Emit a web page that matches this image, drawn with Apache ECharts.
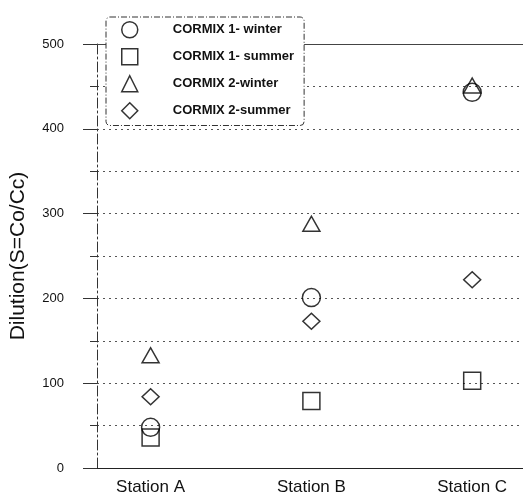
<!DOCTYPE html>
<html>
<head>
<meta charset="utf-8">
<script src="https://cdn.jsdelivr.net/npm/echarts@6/dist/echarts.min.js"></script>
<style>
html,body{margin:0;padding:0;background:#fff;}
#chart{width:523px;height:499px;}
</style>
</head>
<body>
<div id="chart"></div>
<script>
var stations = ['Station A', 'Station B', 'Station C'];
var seriesNames = ['CORMIX 1- winter', 'CORMIX 1- summer', 'CORMIX 2-winter', 'CORMIX 2-summer'];
var cormix1Winter = [48, 201, 443];
var cormix1Summer = [36, 79, 103];
var cormix2Winter = [133, 288, 451];
var cormix2Summer = [84, 173, 222];
var yTicks = [0, 100, 200, 300, 400, 500];

var regular = "'Liberation Sans', Arial, sans-serif";

function pts(vals) {
  return vals.map(function (v, i) { return [i + 1, v]; });
}
var symbols = ['circle', 'rect', 'triangle', 'diamond'];
var sizes = [18, 17, [17, 15], [17, 16]];
var values = [cormix1Winter, cormix1Summer, cormix2Winter, cormix2Summer];

var series = seriesNames.map(function (name, k) {
  return {
    name: name,
    type: 'scatter',
    symbol: symbols[k],
    symbolSize: sizes[k],
    data: pts(values[k]),
    itemStyle: { color: 'rgba(0,0,0,0)', borderColor: '#000', borderWidth: 1.5 },
    emphasis: { disabled: true },
    silent: true
  };
});

var chart = echarts.init(document.getElementById('chart'));
chart.setOption({
  animation: false,
  backgroundColor: '#fff',
  grid: { left: 95, right: 0, top: 44, bottom: 31 },
  legend: {
    orient: 'vertical',
    left: 106,
    top: 17,
    padding: [4, 10, 6, 15],
    itemGap: 9.5,
    itemWidth: 16,
    itemHeight: 16,
    backgroundColor: '#fff',
    borderColor: '#333',
    borderWidth: 1,
    borderType: [6, 2, 1, 2],
    borderRadius: 4,
    z: 10,
    data: seriesNames.map(function (n, k) { return { name: n, icon: symbols[k] }; }),
    itemStyle: { color: 'rgba(0,0,0,0)', borderColor: '#000', borderWidth: 1.5 },
    textStyle: { fontFamily: regular, fontWeight: 'bold', fontSize: 13, color: '#111', padding: [0, 0, 0, 30] }
  },
  xAxis: [{
    type: 'value',
    min: 2 / 3,
    max: 3.316,
    axisLine: { show: true, onZero: false, lineStyle: { color: '#222', width: 1 } },
    axisTick: { show: false },
    splitLine: { show: false },
    axisLabel: {
      customValues: [1, 2, 3],
      formatter: function (v) { return stations[Math.round(v) - 1] || ''; },
      fontFamily: regular,
      fontSize: 17,
      color: '#111',
      margin: 11
    }
  }, {
    type: 'value',
    position: 'top',
    min: 2 / 3,
    max: 3.316,
    axisLine: { show: true, onZero: false, lineStyle: { color: '#444', width: 1 } },
    axisTick: { show: false },
    axisLabel: { show: false },
    splitLine: { show: false }
  }],
  yAxis: {
    type: 'value',
    min: 0,
    max: 500,
    interval: 100,
    name: 'Dilution(S=Co/Cc)',
    nameLocation: 'middle',
    nameGap: 68,
    nameTextStyle: { fontFamily: regular, fontSize: 21, color: '#111' },
    axisLine: { show: true, lineStyle: { color: '#333', width: 1, type: [10, 3, 2, 3] } },
    axisTick: { show: true, length: 14, lineStyle: { color: '#333' } },
    minorTick: { show: true, splitNumber: 2, length: 7, lineStyle: { color: '#333' } },
    splitLine: { show: true, lineStyle: { color: '#555', width: 1, type: [2, 4] } },
    minorSplitLine: { show: true, lineStyle: { color: '#555', width: 1, type: [2, 4] } },
    axisLabel: {
      customValues: yTicks,
      fontFamily: regular,
      fontSize: 13,
      color: '#111',
      margin: 33
    }
  },
  series: series
});
</script>
</body>
</html>
